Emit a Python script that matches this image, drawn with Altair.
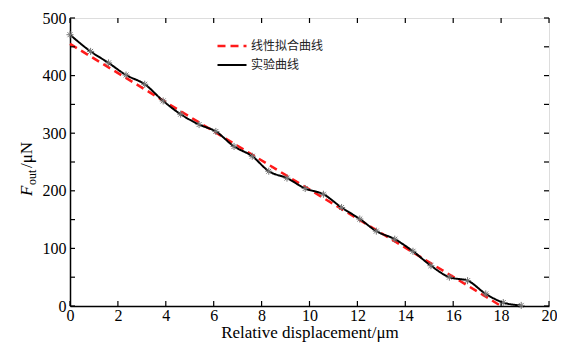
import altair as alt
import pandas as pd

# experimental curve (Relative displacement µm, F_out µN)
exp_x = [0, 0.86, 1.61, 2.34, 3.12, 3.89, 4.62, 5.39, 6.09, 6.85, 7.61, 8.30, 9.06,
         9.82, 10.58, 11.34, 12.10, 12.79, 13.56, 14.32, 15.07, 15.84, 16.60, 17.36,
         18.09, 18.84]
exp_y = [471, 442, 422, 401, 385, 356, 333, 315, 303, 277, 260, 234, 222,
         204, 194, 171, 151, 130, 116, 95, 70, 50, 44, 21,
         6, 1]
# linear fit
fit_x = [0, 18.0]
fit_y = [455, 0]

series_names = ["线性拟合曲线", "实验曲线"]
x_ticks = list(range(0, 21, 2))
y_ticks = list(range(0, 501, 50))

W, H = 479, 288
SERIF = "Liberation Serif"

lines = pd.DataFrame({
    "x": fit_x + exp_x,
    "y": fit_y + exp_y,
    "s": [series_names[0]] * len(fit_x) + [series_names[1]] * len(exp_x),
})
pts = pd.DataFrame({"x": exp_x, "y": exp_y})

xs = alt.Scale(domain=[0, 20], nice=False)
ys = alt.Scale(domain=[0, 500], nice=False)

xax = alt.Axis(values=x_ticks, ticks=False, grid=False, domainColor="black", domainWidth=1.5,
               labelFont=SERIF, labelFontSize=16, labelColor="black", labelPadding=1,
               titleFont=SERIF, titleFontSize=17, titleFontWeight="normal", titleColor="black",
               titlePadding=1, labelFlush=False, labelOverlap=False)
yax = alt.Axis(values=y_ticks, ticks=False, grid=False, domainColor="black", domainWidth=1.5,
               labelFont=SERIF, labelFontSize=16, labelColor="black", labelPadding=4,
               title=None)

leg = dict(title=None, orient="none", legendX=146, legendY=19,
           symbolType="stroke", symbolSize=841, symbolStrokeWidth=2.5,
           labelFont="Noto Sans CJK SC", labelFontSize=12, clipHeight=18,
           labelColor="#222", rowPadding=1, labelOffset=3, padding=0)

line_layer = alt.Chart(lines).mark_line(interpolate="monotone").encode(
    x=alt.X("x:Q", scale=xs, axis=xax, title="Relative displacement/μm"),
    y=alt.Y("y:Q", scale=ys, axis=yax),
    color=alt.Color("s:N", scale=alt.Scale(domain=series_names, range=["#ff1a1a", "#000000"]),
                    legend=alt.Legend(**leg)),
    strokeDash=alt.StrokeDash("s:N", scale=alt.Scale(domain=series_names, range=[[8, 5], [1, 0]]),
                              legend=alt.Legend(**leg)),
    strokeWidth=alt.StrokeWidth("s:N", scale=alt.Scale(domain=series_names, range=[2.5, 2]),
                                legend=None),
    order=alt.Order("x:Q"),
)

star = "M-1,0H1M0,-1V1M-0.7,-0.7L0.7,0.7M-0.7,0.7L0.7,-0.7"
pt_layer = alt.Chart(pts).mark_point(shape=star, size=50, filled=False, color="#777777",
                                     strokeWidth=1, opacity=1).encode(
    x=alt.X("x:Q", scale=xs), y=alt.Y("y:Q", scale=ys))

xt = pd.DataFrame({"v": x_ticks})
yt = pd.DataFrame({"v": y_ticks})
tick_bot = alt.Chart(xt).mark_rule(color="black", strokeWidth=1.2).encode(
    x=alt.X("v:Q", scale=xs), y=alt.value(H), y2=alt.value(H - 5))
tick_top = alt.Chart(xt).mark_rule(color="black", strokeWidth=1.2).encode(
    x=alt.X("v:Q", scale=xs), y=alt.value(0), y2=alt.value(5))
tick_left = alt.Chart(yt).mark_rule(color="black", strokeWidth=1.2).encode(
    y=alt.Y("v:Q", scale=ys), x=alt.value(0), x2=alt.value(5))
tick_right = alt.Chart(yt).mark_rule(color="black", strokeWidth=1.2).encode(
    y=alt.Y("v:Q", scale=ys), x=alt.value(W), x2=alt.value(W - 5))

# y title: F_out/μN
t1 = alt.Chart(pd.DataFrame({"t": ["F"]})).mark_text(
    font=SERIF, fontSize=17, fontStyle="italic", angle=270, align="left",
    baseline="alphabetic", color="black").encode(
    text="t:N", x=alt.value(-38), y=alt.value(178))
t2 = alt.Chart(pd.DataFrame({"t": ["out"]})).mark_text(
    font=SERIF, fontSize=12, angle=270, align="left", baseline="alphabetic",
    color="black").encode(text="t:N", x=alt.value(-34), y=alt.value(167))
t3 = alt.Chart(pd.DataFrame({"t": ["/μN"]})).mark_text(
    font=SERIF, fontSize=17, angle=270, align="left", baseline="alphabetic",
    color="black").encode(text="t:N", x=alt.value(-38), y=alt.value(150))

chart = alt.layer(line_layer, pt_layer, tick_bot, tick_top, tick_left, tick_right,
                  t1, t2, t3).properties(
    width=W, height=H,
    autosize=alt.AutoSizeParams(type="none"),
    padding={"left": 62, "top": 10, "right": 8, "bottom": 39},
).configure_view(stroke="black", strokeWidth=1.5).configure(background="white")

chart.save("out.html", embed_options={"renderer": "svg", "actions": False})
